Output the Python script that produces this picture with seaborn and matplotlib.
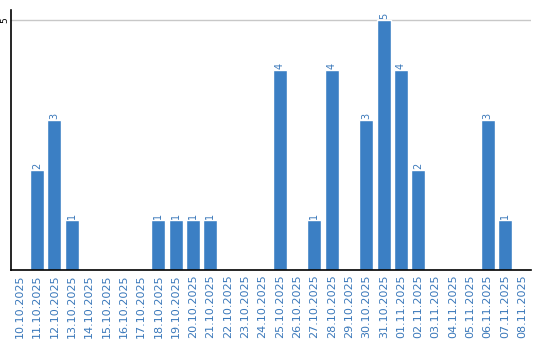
import matplotlib
matplotlib.use("Agg")
import matplotlib.pyplot as plt
import seaborn as sns
import pandas as pd

dates = ["10.10.2025", "11.10.2025", "12.10.2025", "13.10.2025", "14.10.2025",
         "15.10.2025", "16.10.2025", "17.10.2025", "18.10.2025", "19.10.2025",
         "20.10.2025", "21.10.2025", "22.10.2025", "23.10.2025", "24.10.2025",
         "25.10.2025", "26.10.2025", "27.10.2025", "28.10.2025", "29.10.2025",
         "30.10.2025", "31.10.2025", "01.11.2025", "02.11.2025", "03.11.2025",
         "04.11.2025", "05.11.2025", "06.11.2025", "07.11.2025", "08.11.2025"]
counts = [0, 2, 3, 1, 0, 0, 0, 0, 1, 1, 1, 1, 0, 0, 0, 4, 0, 1, 4, 0,
          3, 5, 4, 2, 0, 0, 0, 3, 1, 0]

sns.set_theme(style="white")
plt.rcParams['font.family'] = ['DejaVu Sans']

bar_color = "#3b7fc4"
label_color = "#3a78ba"

df = pd.DataFrame({"date": dates, "count": counts})

fig = plt.figure(figsize=(5.4, 3.4), dpi=100)
ax = fig.add_axes([0.0204, 0.206, 0.963, 0.764])

sns.barplot(data=df, x="date", y="count", color=bar_color, saturation=1,
            width=0.8, ax=ax, order=dates)

for i, v in enumerate(counts):
    if v > 0:
        ax.text(i, v + 0.03, str(v), rotation=90, ha="center", va="bottom",
                fontsize=7, color=label_color)

ax.set_ylim(0, 5.2)
ax.set_xlim(-0.5, len(dates) - 0.5)
ax.set_yticks([5])
ax.set_yticklabels(["5"], rotation=90, va="center", fontsize=6.5, color="black")
ax.axhline(5, color="#c8c8c8", lw=1, zorder=0)
ax.tick_params(axis="y", length=0, pad=1)
ax.tick_params(axis="x", length=0, pad=3)
ax.set_xticks(range(len(dates)))
ax.set_xticklabels(dates, rotation=90, fontsize=8, color=label_color)
ax.set_xlabel("")
ax.set_ylabel("")
for s in ["top", "right"]:
    ax.spines[s].set_visible(False)
for s in ["left", "bottom"]:
    ax.spines[s].set_color("black")
    ax.spines[s].set_linewidth(1.2)

fig.savefig("out.png", dpi=100)
